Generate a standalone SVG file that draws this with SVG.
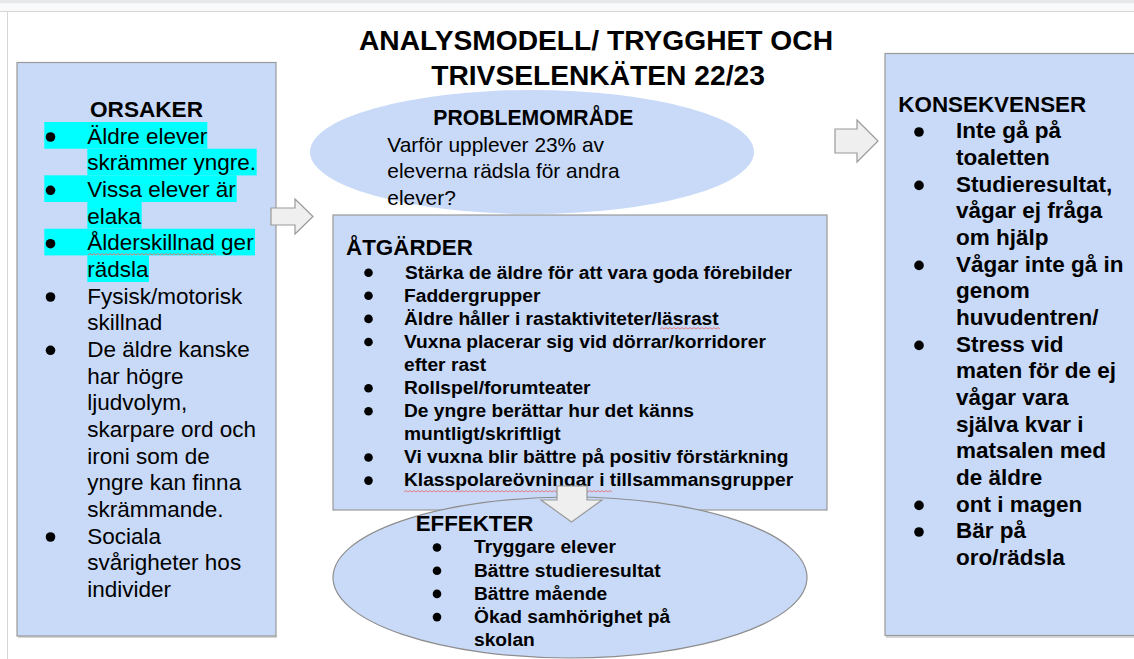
<svg xmlns="http://www.w3.org/2000/svg" width="1134" height="659" viewBox="0 0 1134 659">
<defs>
<style>
.t{font-family:"Liberation Sans",Arial,sans-serif;fill:#000}
.r{font-size:22.5px}
.b{font-weight:bold}
.m{font-size:19.2px;font-weight:bold}
.box{fill:#c9daf8;stroke:#9a9a9a;stroke-width:1.2}
.sh{fill:none;stroke:#c8c8c8;stroke-width:1.5}
.arr{fill:#efefef;stroke:#9a9a9a;stroke-width:1.2}
.hl{fill:#00ffff}
.sp{fill:none;stroke:#e57373;stroke-width:0.9}
</style>
</defs>
<rect x="0" y="0" width="1134" height="659" fill="#ffffff"/>
<rect x="0" y="0" width="1134" height="3.5" fill="#e8e8e8"/>
<rect x="0" y="3.5" width="1134" height="7.5" fill="#f8f9fa"/>
<line x1="0" y1="11.5" x2="1134" y2="11.5" stroke="#d6d6d6" stroke-width="1"/>
<line x1="7.5" y1="11.5" x2="7.5" y2="659" stroke="#d6d6d6" stroke-width="1"/>

<g id="title">
<text class="t b" font-size="28.2" text-anchor="middle" x="596" y="50">ANALYSMODELL/ TRYGGHET OCH</text>
<text class="t b" font-size="28.2" text-anchor="middle" x="598" y="85">TRIVSELENKÄTEN 22/23</text>
</g>

<g id="orsaker">
<line class="sh" x1="18" y1="637" x2="277" y2="637"/>
<rect class="box" x="17" y="62.5" width="259" height="573.5"/>
<rect class="hl" x="44.3" y="122" width="163" height="26.7"/>
<rect class="hl" x="87.3" y="148.7" width="169.4" height="26.7"/>
<rect class="hl" x="44.3" y="175.3" width="192.4" height="26.7"/>
<rect class="hl" x="87.3" y="202" width="54.4" height="26.7"/>
<rect class="hl" x="44.3" y="228.7" width="210.7" height="26.7"/>
<rect class="hl" x="87.3" y="255.3" width="61.7" height="26.7"/>
<text class="t b" font-size="22.6" x="90" y="117">ORSAKER</text>
<g fill="#000">
<circle cx="50.5" cy="137" r="4.8"/>
<circle cx="50.5" cy="190.3" r="4.8"/>
<circle cx="50.5" cy="243.7" r="4.8"/>
<circle cx="50.5" cy="297" r="4.8"/>
<circle cx="50.5" cy="350.3" r="4.8"/>
<circle cx="50.5" cy="537" r="4.8"/>
</g>
<text class="t r" x="87.3" y="143.67">Äldre elever<tspan x="87.3" dy="26.67">skrämmer yngre.</tspan><tspan x="87.3" dy="26.67">Vissa elever är</tspan><tspan x="87.3" dy="26.67">elaka</tspan><tspan x="87.3" dy="26.67">Ålderskillnad ger</tspan><tspan x="87.3" dy="26.67">rädsla</tspan><tspan x="87.3" dy="26.67">Fysisk/motorisk</tspan><tspan x="87.3" dy="26.67">skillnad</tspan><tspan x="87.3" dy="26.67">De äldre kanske</tspan><tspan x="87.3" dy="26.67">har högre</tspan><tspan x="87.3" dy="26.67">ljudvolym,</tspan><tspan x="87.3" dy="26.67">skarpare ord och</tspan><tspan x="87.3" dy="26.67">ironi som de</tspan><tspan x="87.3" dy="26.67">yngre kan finna</tspan><tspan x="87.3" dy="26.67">skrämmande.</tspan><tspan x="87.3" dy="26.67">Sociala</tspan><tspan x="87.3" dy="26.67">svårigheter hos</tspan><tspan x="87.3" dy="26.67">individer</tspan></text>
<path class="sp" d="M88 255 l2 -1.5 l2 1.5 l2 -1.5 l2 1.5 l2 -1.5 l2 1.5 l2 -1.5 l2 1.5 l2 -1.5 l2 1.5 l2 -1.5 l2 1.5 l2 -1.5 l2 1.5 l2 -1.5 l2 1.5 l2 -1.5 l2 1.5 l2 -1.5 l2 1.5 l2 -1.5 l2 1.5 l2 -1.5 l2 1.5 l2 -1.5 l2 1.5 l2 -1.5 l2 1.5 l2 -1.5 l2 1.5 l2 -1.5 l2 1.5 l2 -1.5 l2 1.5 l2 -1.5 l2 1.5 l2 -1.5 l2 1.5 l2 -1.5 l2 1.5 l2 -1.5 l2 1.5 l2 -1.5 l2 1.5 l2 -1.5 l2 1.5 l2 -1.5 l2 1.5 l2 -1.5 l2 1.5 l2 -1.5 l2 1.5 l2 -1.5 l2 1.5 l2 -1.5 l2 1.5 l2 -1.5 l2 1.5 l2 -1.5 l2 1.5 l2 -1.5 l2 1.5 l2 -1.5 l2 1.5"/>
</g>

<g id="problemomrade">
<ellipse cx="532" cy="152" rx="222" ry="62" fill="#c9daf8"/>
<text class="t b" font-size="21.2" x="433.3" y="125">PROBLEMOMRÅDE</text>
<text class="t" font-size="20.9" x="387.3" y="151.7">Varför upplever 23% av<tspan x="387.3" dy="26.6">eleverna rädsla för andra</tspan><tspan x="387.3" dy="26.6">elever?</tspan></text>
</g>

<g id="konsekvenser">
<line class="sh" x1="886" y1="637" x2="1134" y2="637"/>
<rect class="box" x="885" y="53.5" width="260" height="582"/>
<text class="t b" font-size="22.4" x="898.3" y="111.7">KONSEKVENSER</text>
<g fill="#000">
<circle cx="919" cy="132" r="4.8"/>
<circle cx="919" cy="185.4" r="4.8"/>
<circle cx="919" cy="265.4" r="4.8"/>
<circle cx="919" cy="345.4" r="4.8"/>
<circle cx="919" cy="505.4" r="4.8"/>
<circle cx="919" cy="532" r="4.8"/>
</g>
<text class="t b" font-size="22.5" x="956" y="138.37">Inte gå på<tspan x="956" dy="26.67">toaletten</tspan><tspan x="956" dy="26.67">Studieresultat,</tspan><tspan x="956" dy="26.67">vågar ej fråga</tspan><tspan x="956" dy="26.67">om hjälp</tspan><tspan x="956" dy="26.67">Vågar inte gå in</tspan><tspan x="956" dy="26.67">genom</tspan><tspan x="956" dy="26.67">huvudentren/</tspan><tspan x="956" dy="26.67">Stress vid</tspan><tspan x="956" dy="26.67">maten för de ej</tspan><tspan x="956" dy="26.67">vågar vara</tspan><tspan x="956" dy="26.67">själva kvar i</tspan><tspan x="956" dy="26.67">matsalen med</tspan><tspan x="956" dy="26.67">de äldre</tspan><tspan x="956" dy="26.67">ont i magen</tspan><tspan x="956" dy="26.67">Bär på</tspan><tspan x="956" dy="26.67">oro/rädsla</tspan></text>
</g>

<g id="atgarder">
<rect class="box" x="333" y="215" width="494" height="295"/>
<text class="t b" font-size="22.4" x="346" y="255">ÅTGÄRDER</text>
<g fill="#000">
<circle cx="368.5" cy="272.7" r="4.3"/>
<circle cx="368.5" cy="295.8" r="4.3"/>
<circle cx="368.5" cy="318.9" r="4.3"/>
<circle cx="368.5" cy="342" r="4.3"/>
<circle cx="368.5" cy="388.2" r="4.3"/>
<circle cx="368.5" cy="411.3" r="4.3"/>
<circle cx="368.5" cy="457.5" r="4.3"/>
<circle cx="368.5" cy="480.6" r="4.3"/>
</g>
<text class="t m" x="405" y="278.5">Stärka de äldre för att vara goda förebilder<tspan x="404" dy="23.1">Faddergrupper</tspan><tspan x="404" dy="23.1">Äldre håller i rastaktiviteter/läsrast</tspan><tspan x="404" dy="23.1">Vuxna placerar sig vid dörrar/korridorer</tspan><tspan x="404" dy="23.1">efter rast</tspan><tspan x="404" dy="23.1">Rollspel/forumteater</tspan><tspan x="404" dy="23.1">De yngre berättar hur det känns</tspan><tspan x="404" dy="23.1">muntligt/skriftligt</tspan><tspan x="404" dy="23.1">Vi vuxna blir bättre på positiv förstärkning</tspan><tspan x="404" dy="23.1">Klasspolareövningar i tillsammansgrupper</tspan></text>
<path class="sp" d="M660 329 l2 -1.5 l2 1.5 l2 -1.5 l2 1.5 l2 -1.5 l2 1.5 l2 -1.5 l2 1.5 l2 -1.5 l2 1.5 l2 -1.5 l2 1.5 l2 -1.5 l2 1.5 l2 -1.5 l2 1.5 l2 -1.5 l2 1.5 l2 -1.5 l2 1.5 l2 -1.5 l2 1.5 l2 -1.5 l2 1.5 l2 -1.5 l2 1.5 l2 -1.5 l2 1.5 l2 -1.5 l2 1.5"/>
<path class="sp" d="M404 492 l2 -1.5 l2 1.5 l2 -1.5 l2 1.5 l2 -1.5 l2 1.5 l2 -1.5 l2 1.5 l2 -1.5 l2 1.5 l2 -1.5 l2 1.5 l2 -1.5 l2 1.5 l2 -1.5 l2 1.5 l2 -1.5 l2 1.5 l2 -1.5 l2 1.5 l2 -1.5 l2 1.5 l2 -1.5 l2 1.5 l2 -1.5 l2 1.5 l2 -1.5 l2 1.5 l2 -1.5 l2 1.5 l2 -1.5 l2 1.5 l2 -1.5 l2 1.5 l2 -1.5 l2 1.5 l2 -1.5 l2 1.5 l2 -1.5 l2 1.5 l2 -1.5 l2 1.5 l2 -1.5 l2 1.5 l2 -1.5 l2 1.5 l2 -1.5 l2 1.5 l2 -1.5 l2 1.5 l2 -1.5 l2 1.5 l2 -1.5 l2 1.5 l2 -1.5 l2 1.5 l2 -1.5 l2 1.5 l2 -1.5 l2 1.5 l2 -1.5 l2 1.5 l2 -1.5 l2 1.5 l2 -1.5 l2 1.5 l2 -1.5 l2 1.5 l2 -1.5 l2 1.5 l2 -1.5 l2 1.5 l2 -1.5 l2 1.5 l2 -1.5 l2 1.5 l2 -1.5 l2 1.5 l2 -1.5 l2 1.5 l2 -1.5 l2 1.5 l2 -1.5 l2 1.5 l2 -1.5 l2 1.5 l2 -1.5 l2 1.5 l2 -1.5 l2 1.5 l2 -1.5 l2 1.5 l2 -1.5 l2 1.5 l2 -1.5 l2 1.5 l2 -1.5 l2 1.5 l2 -1.5 l2 1.5 l2 -1.5 l2 1.5 l2 -1.5 l2 1.5"/>
</g>

<g id="effekter">
<ellipse cx="570" cy="577.5" rx="237" ry="80.5" fill="#c9daf8" stroke="#8e8e8e" stroke-width="1.2"/>
<text class="t b" font-size="22.3" x="415.7" y="530.7">EFFEKTER</text>
<g fill="#000">
<circle cx="437" cy="547.5" r="4.3"/>
<circle cx="437" cy="570.7" r="4.3"/>
<circle cx="437" cy="593.9" r="4.3"/>
<circle cx="437" cy="617.1" r="4.3"/>
</g>
<text class="t m" x="474" y="553.3">Tryggare elever<tspan x="474" dy="23.2">Bättre studieresultat</tspan><tspan x="474" dy="23.2">Bättre mående</tspan><tspan x="474" dy="23.2">Ökad samhörighet på</tspan><tspan x="474" dy="23.2">skolan</tspan></text>
</g>

<g id="connectors">
<polygon class="arr" points="271,208 295,208 295,199 313,216.5 295,234 295,225 271,225"/>
<polygon class="arr" points="835,129 857,129 857,120 878,141 857,162 857,153 835,153"/>
<polygon class="arr" points="557,486 587,486 587,500 602,500 571.5,522 541,500 557,500"/>
</g>
</svg>
